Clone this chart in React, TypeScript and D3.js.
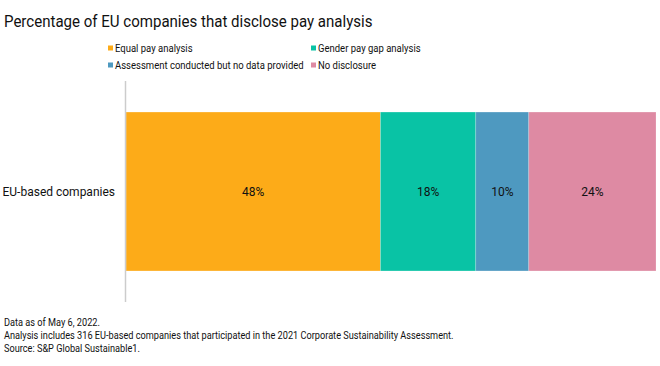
import * as d3 from 'd3';

const categories = ['EU-based companies'];
const seriesNames = ['Equal pay analysis', 'Gender pay gap analysis', 'Assessment conducted but no data provided', 'No disclosure'];
const seriesColors = ['#fdab18', '#09c3a5', '#4e99c0', '#de8aa3'];
const values = [48, 18, 10, 24];
const footnotes = [
  'Data as of May 6, 2022.',
  'Analysis includes 316 EU-based companies that participated in the 2021 Corporate Sustainability Assessment.',
  'Source: S&P Global Sustainable1.',
];

const W = 660;
const H = 366;
const font = 'Roboto, "Liberation Sans", sans-serif';

// condensed text: the reference uses a narrow grotesque
const T = ({ x, y, size, sx = 0.87, anchor = 'start', children }: any) => (
  <g transform={`translate(${x},${y}) scale(${sx},1)`}>
    <text dy="0.35em" textAnchor={anchor} fontFamily={font} fontSize={size} fill="#111">
      {children}
    </text>
  </g>
);

const App = () => {
  const x = d3.scaleLinear().domain([0, 100]).range([126, 656]);
  const y = d3.scaleBand().domain(categories).range([82, 301]).paddingInner(0).paddingOuter(0.189);

  const stack = d3.stack<any>().keys(seriesNames)([
    Object.fromEntries(seriesNames.map((k, i) => [k, values[i]])),
  ]);

  const legendX = [108, 311];
  const legendY = [48, 65];

  return (
    <svg width={W} height={H} style={{ position: 'absolute', left: 0, top: 0, background: '#fff' }}>
      <g transform="translate(4,27) scale(0.885,1)">
        <text fontFamily={font} fontSize={17} fill="#111">
          Percentage of EU companies that disclose pay analysis
        </text>
      </g>

      {seriesNames.map((name, i) => {
        const lx = legendX[i % 2];
        const ly = legendY[Math.floor(i / 2)];
        return (
          <g key={name}>
            <rect x={lx} y={ly - 2.5} width={5} height={5} fill={seriesColors[i]} />
            <T x={lx + 7} y={ly} size={11} sx={0.865}>{name}</T>
          </g>
        );
      })}

      {stack.map((s, i) =>
        s.map((d, j) => (
          <rect key={`${i}-${j}`} x={x(d[0])} y={y(categories[j])} width={x(d[1]) - x(d[0])} height={y.bandwidth()}
            fill={seriesColors[i]} stroke="#fff" strokeOpacity={0.35} strokeWidth={0.6} />
        ))
      )}
      {stack.map((s, i) =>
        s.map((d, j) => (
          <T key={`t${i}-${j}`} x={(x(d[0]) + x(d[1])) / 2} y={(y(categories[j]) ?? 0) + y.bandwidth() / 2}
            size={12} sx={1} anchor="middle">
            {values[i]}%
          </T>
        ))
      )}

      {categories.map((c) => (
        <T key={c} x={115} y={(y(c) ?? 0) + y.bandwidth() / 2} size={12} sx={1} anchor="end">{c}</T>
      ))}

      <line x1={125.5} x2={125.5} y1={81} y2={302} stroke="#ccc" strokeWidth={1.5} />

      {footnotes.map((t, i) => (
        <T key={i} x={4} y={322.5 + i * 13} size={10.5} sx={0.875}>{t}</T>
      ))}
    </svg>
  );
};

export default App;
